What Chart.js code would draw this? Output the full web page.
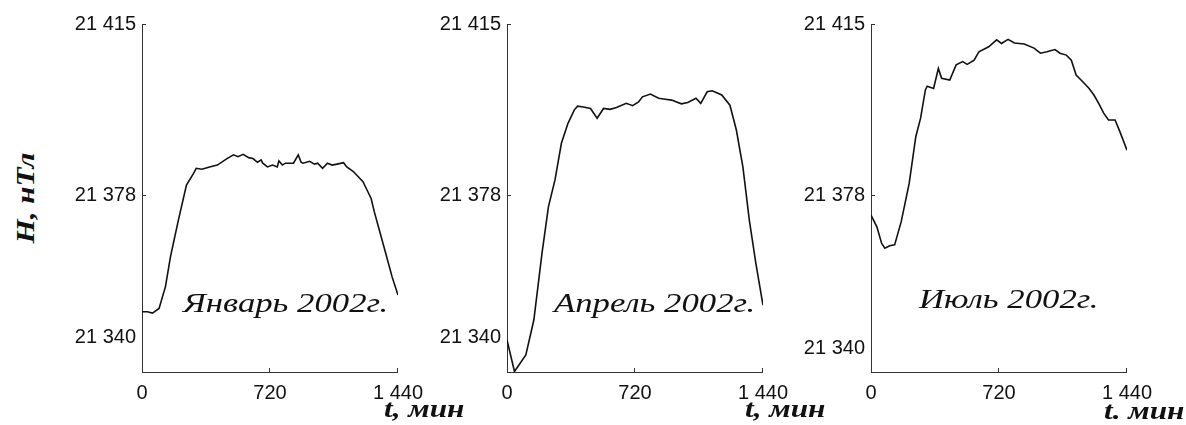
<!DOCTYPE html>
<html>
<head>
<meta charset="utf-8">
<script src="https://cdn.jsdelivr.net/npm/chart.js@4.4.1/dist/chart.umd.min.js"></script>
<style>
  body { margin:0; background:#fff; width:1186px; height:425px; position:relative; overflow:hidden; }
  canvas { position:absolute; top:0; }
  .note { position:absolute; font:italic 28px "Liberation Serif", serif; line-height:28px; white-space:nowrap; color:#111;
          transform-origin:0 50%; transform:scaleX(1.24); }
  .axt { position:absolute; font:italic bold 25px "Liberation Serif", serif; line-height:25px; white-space:nowrap; color:#111;
         transform-origin:0 50%; transform:scaleX(1.25); }
  #ylab { position:absolute; left:26px; top:198px; transform:translate(-50%,-50%) rotate(-90deg) scaleX(1.2);
          font:italic bold 26px "Liberation Serif", serif; white-space:nowrap; color:#111; }
</style>
</head>
<body>
<canvas id="c1" width="384" height="425" style="left:52px"></canvas>
<canvas id="c2" width="384" height="425" style="left:417px"></canvas>
<canvas id="c3" width="384" height="425" style="left:781px"></canvas>

<div id="ylab">H, нТл</div>
<div class="note" style="left:183px;top:289px">Январь 2002г.</div>
<div class="note" style="left:554px;top:289px">Апрель 2002г.</div>
<div class="note" style="left:919px;top:285px">Июль 2002г.</div>
<div class="axt" style="left:384px;top:396px">t, мин</div>
<div class="axt" style="left:745px;top:396px">t, мин</div>
<div class="axt" style="left:1104px;top:398px">t. мин</div>

<script>
// axis ticks
const xTicks = [0, 720, 1440];
const yTicks = [21340, 21378, 21415];

// January 2002, minutes of day / nT
const janT = [0, 30, 59, 96, 132, 160, 205, 250, 290, 305, 337, 380, 424, 478, 515, 540, 569, 600, 624, 650,
  670, 679, 706, 735, 761, 770, 790, 806, 852, 879, 895, 906, 943, 970, 988, 1016, 1043, 1070, 1097, 1134,
  1152, 1189, 1243, 1261, 1289, 1307, 1335, 1371, 1407, 1440];
const janH = [21353, 21353, 21352.7, 21353.7, 21358.4, 21364.8, 21372.8, 21380.3, 21382.8, 21383.9, 21383.7,
  21384.2, 21384.6, 21386, 21386.8, 21386.4, 21386.9, 21386.2, 21386, 21385.2, 21385.7, 21385, 21384.2,
  21384.6, 21384.2, 21385.5, 21384.6, 21385, 21385, 21386.8, 21385.2, 21385, 21385.4, 21384.8, 21385,
  21383.9, 21385, 21384.6, 21384.8, 21385.1, 21384.2, 21383.2, 21381, 21379.6, 21377.4, 21374.5, 21370.6,
  21365.6, 21360.5, 21356.6];

// April 2002
const aprT = [0, 42, 106, 151, 197, 233, 270, 306, 343, 379, 397, 430, 470, 507, 543, 580, 616, 671, 707,
  740, 762, 807, 853, 890, 926, 981, 1017, 1063, 1090, 1126, 1154, 1180, 1208, 1254, 1290, 1327, 1363,
  1400, 1440];
const aprH = [21346.9, 21340.1, 21343.7, 21351.2, 21365.6, 21375.6, 21381.4, 21389.3, 21393.6, 21396.5,
  21397.3, 21397.1, 21396.8, 21394.7, 21396.8, 21396.6, 21397, 21397.9, 21397.4, 21398.2, 21399.3,
  21399.9, 21399, 21398.8, 21398.6, 21397.8, 21398.1, 21399, 21397.9, 21400.4, 21400.6, 21400.2, 21399.7,
  21397.5, 21392.2, 21384.2, 21372.8, 21363.4, 21354.4];

// July 2002
const julT = [0, 33, 60, 78, 105, 133, 170, 215, 252, 279, 306, 316, 352, 379, 397, 443, 479, 516, 541, 580,
  607, 662, 707, 734, 771, 807, 862, 917, 953, 990, 1035, 1063, 1099, 1127, 1154, 1190, 1227, 1254, 1281,
  1309, 1336, 1373, 1400, 1440];
const julH = [21373.8, 21371.3, 21367.7, 21366.7, 21367.2, 21367.4, 21372.4, 21380.7, 21390.7, 21394.7,
  21400.8, 21401.6, 21401.1, 21405.4, 21403.3, 21402.9, 21406.2, 21406.9, 21406.3, 21407.2, 21409,
  21410.1, 21411.6, 21410.8, 21411.7, 21410.9, 21410.7, 21409.8, 21408.7, 21409, 21409.5, 21408.7,
  21408.3, 21407.2, 21404, 21402.6, 21401.1, 21399.7, 21397.9, 21395.8, 21394.3, 21394.3, 21391.8,
  21387.8];

const FONT = '"Liberation Sans", Arial, sans-serif';
const TICK_SIZE = 20;
const spaced = v => String(v).replace(/(\d)(?=(\d{3})+$)/, '$1 ');

// the bottom y label sits above the x axis so it doesn't hit the "0"
const lowLabel = {
  id: 'lowLabel',
  afterDraw(chart, args, opts) {
    const y = chart.scales.y, ctx = chart.ctx;
    ctx.save();
    ctx.font = TICK_SIZE + 'px ' + FONT;
    ctx.fillStyle = '#111';
    ctx.textAlign = 'right';
    ctx.textBaseline = 'middle';
    ctx.fillText(spaced(yTicks[0]), y.right - 6, y.getPixelForValue(yTicks[0]) - opts.lift);
    ctx.restore();
  }
};

function panel(id, ts, hs, lift) {
  const data = ts.map((t, i) => ({x: t, y: hs[i]}));
  return new Chart(document.getElementById(id), {
    type: 'line',
    data: { datasets: [{ data, borderColor: '#111', borderWidth: 1.6, pointRadius: 0, tension: 0 }] },
    options: {
      responsive: false, animation: false,
      layout: { padding: { top: 24, right: 30, left: 0, bottom: 0 } },
      plugins: { legend: { display: false }, tooltip: { enabled: false }, lowLabel: { lift } },
      scales: {
        x: {
          type: 'linear', min: 0, max: 1440,
          afterBuildTicks: s => { s.ticks = xTicks.map(v => ({value: v})); },
          afterFit: s => { s.height = 53; },
          ticks: { padding: 13, color: '#111', font: { family: FONT, size: TICK_SIZE }, maxRotation: 0, callback: v => spaced(v) },
          grid: { drawOnChartArea: false, tickLength: -4, color: '#333' },
          border: { color: '#333', width: 1 }
        },
        y: {
          min: 21340, max: 21415,
          afterBuildTicks: s => { s.ticks = yTicks.map(v => ({value: v})); },
          afterFit: s => { s.width = 90; },
          ticks: { padding: 10, color: '#111', font: { family: FONT, size: TICK_SIZE },
                   callback: v => v === yTicks[0] ? '' : spaced(v) },
          grid: { drawOnChartArea: false, tickLength: -4, color: '#333' },
          border: { color: '#333', width: 1 }
        }
      }
    },
    plugins: [lowLabel]
  });
}

panel('c1', janT, janH, 35);
panel('c2', aprT, aprH, 35);
panel('c3', julT, julH, 24);
</script>
</body>
</html>
